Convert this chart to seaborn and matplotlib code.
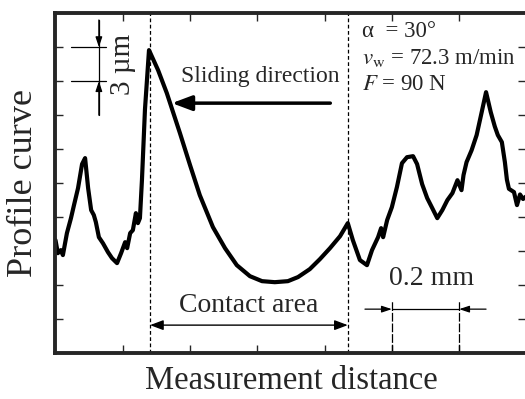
import numpy as np
import pandas as pd
import matplotlib
matplotlib.use("Agg")
import matplotlib.pyplot as plt
import seaborn as sns

# Profile curve (x in mm, height in um)
dist_mm = [0.000, 0.007, 0.016, 0.022, 0.034, 0.046, 0.055, 0.067, 0.079, 0.088,
           0.097, 0.106, 0.114, 0.120, 0.129, 0.141, 0.156, 0.168, 0.183, 0.195,
           0.207, 0.213, 0.222, 0.230, 0.239, 0.245, 0.251, 0.257, 0.266, 0.278,
           0.305, 0.331, 0.370, 0.400, 0.429, 0.468, 0.504, 0.539, 0.578, 0.614,
           0.652, 0.691, 0.721, 0.756, 0.786, 0.816, 0.846, 0.869, 0.884, 0.905,
           0.926, 0.941, 0.959, 0.968, 0.974, 0.986, 1.000, 1.015, 1.030, 1.045,
           1.063, 1.075, 1.090, 1.105, 1.120, 1.135, 1.150, 1.165, 1.180, 1.195,
           1.207, 1.213, 1.222, 1.237, 1.252, 1.267, 1.280, 1.294, 1.306, 1.315,
           1.327, 1.336, 1.342, 1.348, 1.363, 1.372, 1.381, 1.390, 1.400]
height_um = [9.97, 8.82, 9.09, 8.65, 10.59, 11.91, 13.06, 14.56, 16.68, 17.21,
             14.56, 12.62, 12.18, 11.56, 10.23, 9.70, 8.91, 8.38, 7.94, 8.82,
             9.79, 9.26, 10.59, 10.85, 12.35, 11.47, 11.91, 15.26, 21.50, 26.74,
             24.97, 22.94, 19.41, 16.59, 13.94, 11.12, 9.26, 7.76, 6.79, 6.35,
             6.26, 6.35, 6.71, 7.41, 8.29, 9.26, 10.32, 11.47, 9.97, 8.21,
             7.76, 9.09, 10.23, 11.03, 10.23, 11.74, 12.88, 14.65, 16.76, 17.29,
             17.38, 16.68, 14.91, 13.68, 12.80, 11.91, 12.62, 13.50, 14.12, 15.26,
             14.38, 15.71, 16.85, 17.90, 19.24, 21.26, 23.03, 21.26, 20.00, 19.24,
             18.62, 16.85, 15.30, 14.50, 14.21, 13.06, 14.00, 13.60, 13.85]

contact_mm = [0.281, 0.869]
xticks_mm = [0.2, 0.4, 0.6, 0.8, 1.0, 1.2]
yticks_um = [3, 6, 9, 12, 15, 18, 21, 24, 27]
scale_x_mm = [1.0, 1.2]
scale_y_um = [24, 27]

df = pd.DataFrame({"x": dist_mm, "y": height_um})

sns.set_style("ticks")
plt.rcParams["font.family"] = ["Liberation Serif", "DejaVu Serif"]
plt.rcParams["mathtext.fontset"] = "stix"

fig = plt.figure(figsize=(5.25, 3.99), dpi=100)
ax = fig.add_axes([0.1057, 0.115, 0.897, 0.852])

sns.lineplot(data=df, x="x", y="y", ax=ax, color="black", lw=3.0, sort=False)

ax.set_xlim(0, 1.4)
ax.set_ylim(0, 30)
ax.set_xticks(xticks_mm)
ax.set_yticks(yticks_um)
ax.tick_params(direction="in", length=6, width=1, top=True, right=True,
               labelleft=False, labelbottom=False)
for s in ax.spines.values():
    s.set_linewidth(2.8)
ax.set_xlabel("Measurement distance", fontsize=23.5, labelpad=9)
ax.set_ylabel("Profile curve", fontsize=26, labelpad=11)

# contact area boundaries
for xc in contact_mm:
    ax.axvline(xc, color="black", lw=0.9, ls=(0, (3, 2)))

# sliding direction
ax.annotate("", xy=(0.346, 22.06), xytext=(0.817, 22.06),
            arrowprops=dict(arrowstyle="-|>,head_length=1.2,head_width=0.45",
                            color="black", lw=2.5, shrinkA=0, shrinkB=0))
ax.text(0.608, 24.4, "Sliding direction", fontsize=17, ha="center", va="center")

# contact area
ax.annotate("", xy=(contact_mm[0], 2.47), xytext=(contact_mm[1], 2.47),
            arrowprops=dict(arrowstyle="<|-|>,head_length=0.8,head_width=0.3",
                            color="black", lw=1.0, shrinkA=0, shrinkB=0))
ax.text(0.575, 4.2, "Contact area", fontsize=20, ha="center", va="center")

# 0.2 mm scale
for xs in scale_x_mm:
    ax.plot([xs, xs], [0, 4.7], color="black", lw=0.9, ls=(0, (7, 1.5)))
ax.plot(scale_x_mm, [3.88, 3.88], color="black", lw=0.9)
ax.annotate("", xy=(scale_x_mm[0], 3.88), xytext=(0.92, 3.88),
            arrowprops=dict(arrowstyle="-|>,head_length=0.6,head_width=0.2",
                            color="black", lw=0.9, shrinkA=0, shrinkB=0))
ax.annotate("", xy=(scale_x_mm[1], 3.88), xytext=(1.28, 3.88),
            arrowprops=dict(arrowstyle="-|>,head_length=0.6,head_width=0.2",
                            color="black", lw=0.9, shrinkA=0, shrinkB=0))
ax.text(1.118, 6.6, "0.2 mm", fontsize=20, ha="center", va="center")

# 3 um scale
for ys in scale_y_um:
    ax.plot([0.046, 0.150], [ys, ys], color="black", lw=0.9)
ax.plot([0.129, 0.129], [21.0, 29.4], color="black", lw=0.9)
ax.annotate("", xy=(0.129, scale_y_um[1]), xytext=(0.129, 29.4),
            arrowprops=dict(arrowstyle="-|>,head_length=0.6,head_width=0.2",
                            color="black", lw=0.9, shrinkA=0, shrinkB=0))
ax.annotate("", xy=(0.129, scale_y_um[0]), xytext=(0.129, 21.0),
            arrowprops=dict(arrowstyle="-|>,head_length=0.6,head_width=0.2",
                            color="black", lw=0.9, shrinkA=0, shrinkB=0))
ax.text(0.2, 25.5, "3 µm", fontsize=21, rotation=90, ha="center", va="center")

# conditions
ax.text(0.911, 29.3, "α  = 30°\n$v_\\mathrm{w}$ = 72.3 m/min\n$F$ = 90 N",
        fontsize=16.5, ha="left", va="top", linespacing=1.3)

fig.savefig("out.png", dpi=100)
